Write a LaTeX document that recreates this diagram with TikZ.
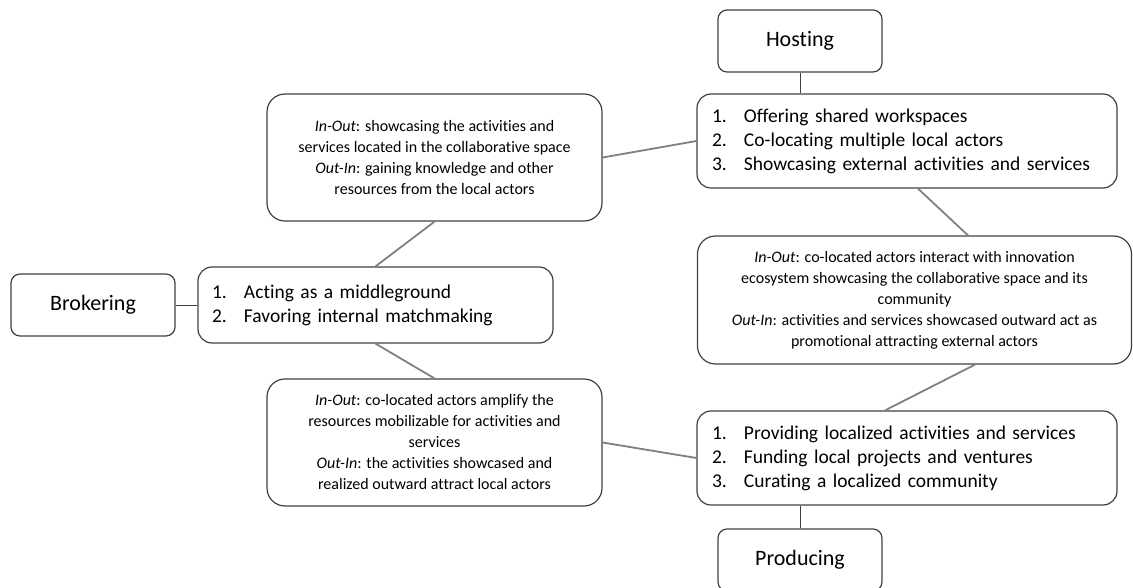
\documentclass[tikz,border=0pt]{standalone}
\usepackage{fontspec}
\setmainfont{Carlito}[Ligatures=NoCommon]
\usetikzlibrary{positioning,calc}
\tikzset{
  tagbox/.style={draw=black!75,line width=1.2pt,rounded corners=9pt,align=center,
                 minimum width=164pt,minimum height=62pt,inner sep=0pt,
                 font=\fontsize{22}{27}\selectfont},
  listbox/.style={draw=black!75,line width=1.2pt,rounded corners=14pt,align=left,
                  inner xsep=15pt,inner ysep=0pt,font=\fontsize{19.5}{24}\selectfont},
  flowbox/.style={draw=black!75,line width=1.2pt,rounded corners=18pt,align=center,
                  inner sep=0pt,font=\fontsize{16}{21}\selectfont},
  link/.style={draw=black!50,line width=1.8pt},
  stem/.style={draw=black!75,line width=1pt}
}
\newcommand{\itm}[2]{\makebox[32pt][l]{#1.}#2}

\begin{document}
\begin{tikzpicture}[x=1pt,y=-1pt]
\useasboundingbox (0,0) rectangle (1133,588);

% role boxes
\node[tagbox] (host) at (800,41)  {Hosting};
\node[tagbox] (brok) at (93,305)  {Brokering};
\node[tagbox] (prod) at (800,560) {Producing};

% lists of practices
\node[listbox, minimum width=420pt, minimum height=94pt, text width=390pt] (hostlist) at (907,141)
  {\itm{1}{Offering shared workspaces}\\ \itm{2}{Co-locating multiple local actors}\\
   \itm{3}{Showcasing external activities and services}};
\node[listbox, inner xsep=14pt, minimum width=355pt, minimum height=76pt, text width=327pt] (broklist) at (375.5,305)
  {\itm{1}{Acting as a middleground}\\ \itm{2}{Favoring internal matchmaking}};
\node[listbox, minimum width=420pt, minimum height=94pt, text width=390pt] (prodlist) at (907,458)
  {\itm{1}{Providing localized activities and services}\\ \itm{2}{Funding local projects and ventures}\\
   \itm{3}{Curating a localized community}};

% flows between roles
\node[flowbox, minimum width=335pt, minimum height=127pt] (hbflow) at (434.5,157.5)
  {\textit{In-Out}: showcasing the activities and\\ services located in the collaborative space\\
   \textit{Out-In}: gaining knowledge and other\\ resources from the local actors};
\node[flowbox, minimum width=434pt, minimum height=128pt] (hpflow) at (914.5,300)
  {\textit{In-Out}: co-located actors interact with innovation\\ ecosystem showcasing the collaborative space and its\\
   community\\ \textit{Out-In}: activities and services showcased outward act as\\ promotional attracting external actors};
\node[flowbox, minimum width=335pt, minimum height=127pt] (bpflow) at (434.5,442.5)
  {\textit{In-Out}: co-located actors amplify the\\ resources mobilizable for activities and\\ services\\
   \textit{Out-In}: the activities showcased and\\ realized outward attract local actors};

\draw[stem] (host) -- (host |- hostlist.north);
\draw[stem] (prod) -- (prod |- prodlist.south);
\draw[stem] (brok) -- (broklist);

\draw[link] (hbflow.east) -- (hostlist.west);
\draw[link] (hbflow.south) -- (broklist.north);
\draw[link] (broklist.south) -- (bpflow.north);
\draw[link] (bpflow.east) -- (prodlist.west);
\draw[link] ([xshift=11pt]hostlist.south) -- ([xshift=53.5pt]hpflow.north);
\draw[link] ([xshift=60.5pt]hpflow.south) -- ([xshift=-22pt]prodlist.north);
\end{tikzpicture}
\end{document}
